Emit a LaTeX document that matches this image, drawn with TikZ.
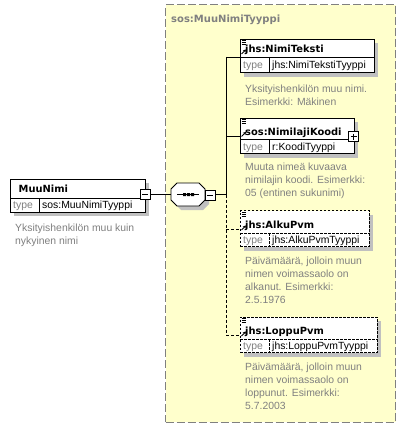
\documentclass[tikz,border=0pt]{standalone}
\usepackage{fontspec}
\setmainfont{Liberation Sans}
\newfontfamily\tfont{DejaVu Sans}
\usetikzlibrary{arrows.meta}
\definecolor{bgyel}{HTML}{FFFFCC}
\definecolor{midgray}{HTML}{808080}
\definecolor{shadowc}{HTML}{C0C0C0}
\tikzset{
  elbox/.style={draw=black,fill=white,line width=0.9pt,inner sep=0pt,outer sep=0pt},
  optbox/.style={dash pattern=on 2.5pt off 1.5pt},
  reqbox/.style={solid},
  ttl/.style={inner sep=0pt,font=\tfont\bfseries\fontsize{9.9}{12}\selectfont},
  typel/.style={inner sep=0pt,text=midgray,font=\fontsize{10.4}{12}\selectfont},
  typev/.style={inner sep=0pt,text=black,font=\fontsize{10.4}{12}\selectfont},
  desc/.style={inner sep=0pt,text=midgray,align=left,anchor=north west,font=\fontsize{10.4}{13}\selectfont},
  iconl/.style={line width=0.8pt,black},
  conn/.style={line width=0.9pt,black},
  optconn/.style={conn,dash pattern=on 3pt off 2pt},
  smallbox/.style={draw=black,fill=white,line width=0.9pt,inner sep=0pt,outer sep=0pt,minimum width=10pt,minimum height=10pt}
}
% #1 name, #2 x1, #3 y1, #4 x2, #5 ydiv, #6 y2, #7 title, #8 type, #9 border style
\newcommand\xelem[9]{%
  \fill[shadowc] (#2+4,#3+4) rectangle (#4+4,#6+4);
  \node[elbox,#9,minimum width={#4-#2},minimum height={#6-#3}] (#1) at ({(#2+#4)/2},{(#3+#6)/2}) {};
  \draw[line width=0.9pt,#9] (#2,#5) -- (#4,#5);
  \draw[line width=0.9pt,#9] (#2+29,#5) -- (#2+29,#6);
  \draw[iconl] (#2+1.5,#3+1.5) -- ++(4.5,0) (#2+1.5,#3+3.5) -- ++(4.5,0) (#2+1.5,#3+5.5) -- ++(4.5,0);
  \draw[iconl,-{Stealth[length=3pt,width=3.5pt]}] (#2+1.5,#5-3) -- ++(4.5,-4.5);
  \node[ttl,anchor=base west] (#1t) at (#2+5,#5-4.5) {#7};
  \node[typel,anchor=base west] (#1k) at (#2+3,#6-3.5) {type};
  \node[typev,anchor=base west] (#1v) at (#2+32,#6-3.5) {#8};
}
\begin{document}
\begin{tikzpicture}[x=1pt,y=-1pt]
\useasboundingbox (0,0) rectangle (406,428);
\fill[white] (0,0) rectangle (406,428);
% container
\node[draw=midgray,fill=bgyel,line width=1pt,dash pattern=on 8pt off 3pt,inner sep=0pt,outer sep=0pt,
      minimum width=230pt,minimum height=417pt] (cont) at (280.5,213.5) {};
\node[inner sep=0pt,anchor=base west,text=midgray,font=\tfont\bfseries\fontsize{10}{12}\selectfont] (contl) at (171,22.5) {sos:MuuNimiTyyppi};

% main element MuuNimi
\fill[shadowc] (14,183) rectangle (149,216);
\node[elbox,minimum width=135pt,minimum height=33pt] (muu) at (77.5,195.5) {};
\draw[line width=0.9pt] (10,198) -- (145,198);
\draw[line width=0.9pt] (39,198) -- (39,212);
\node[ttl,anchor=base west] (muut) at (18.5,192) {MuuNimi};
\node[typel,anchor=base west] (muuk) at (13,208.5) {type};
\node[typev,anchor=base west] (muuv) at (42,208.5) {sos:MuuNimiTyyppi};
\node[desc] (muud) at (15,222.5) {\rule{0pt}{9pt}Yksityishenkilön muu kuin\\nykyinen nimi};
\node[smallbox] (muum) at (145,194.5) {};
\draw[line width=0.9pt] (142,194.5) -- (148,194.5);

% sequence compositor
\fill[shadowc] (181,187) -- (203,187) -- (209,193) -- (209,204) -- (203,210) -- (181,210) -- (175,204) -- (175,193) -- cycle;
\draw[line width=0.9pt,fill=white] (177,183) -- (199,183) -- (205,189) -- (205,200) -- (199,206) -- (177,206) -- (171,200) -- (171,189) -- cycle;
\coordinate (seqin) at (171,194.5);
\draw[line width=0.9pt] (177,194.5) -- (199,194.5);
\fill[black] (183,193) rectangle (186,196) (187,193) rectangle (190,196) (191,193) rectangle (194,196);
\node[smallbox] (seqm) at (210,195) {};
\draw[line width=0.9pt] (207,195) -- (213,195);
\coordinate (bus) at (226,194.5);
\draw[conn] (muum.east) -- (seqin);
\draw[conn] (seqm.east |- bus) -- (bus);

% children
\xelem{e1}{240}{39}{374}{57}{72.5}{jhs:NimiTeksti}{jhs:NimiTekstiTyyppi}{reqbox}
\node[desc] (e1d) at (245,83.5) {\rule{0pt}{9pt}Yksityishenkilön muu nimi.\\Esimerkki: Mäkinen};

\xelem{e2}{240}{118}{354}{139.5}{153.5}{sos:NimilajiKoodi}{r:KoodiTyyppi}{reqbox}
\node[smallbox] (e2p) at (353.5,136.5) {};
\draw[line width=0.9pt] (350.5,136.5) -- (356.5,136.5) (353.5,133.5) -- (353.5,139.5);
\node[desc] (e2d) at (245,161.5) {\rule{0pt}{9pt}Muuta nimeä kuvaava\\nimilajin koodi. Esimerkki:\\05 (entinen sukunimi)};

\xelem{e3}{240}{210.5}{369}{233}{246.5}{jhs:AlkuPvm}{jhs:AlkuPvmTyyppi}{optbox}
\node[desc] (e3d) at (245,255) {\rule{0pt}{9pt}Päivämäärä, jolloin muun\\nimen voimassaolo on\\alkanut. Esimerkki:\\2.5.1976};

\xelem{e4}{240}{317}{377}{339}{352.5}{jhs:LoppuPvm}{jhs:LoppuPvmTyyppi}{optbox}
\node[desc] (e4d) at (245,361.5) {\rule{0pt}{9pt}Päivämäärä, jolloin muun\\nimen voimassaolo on\\loppunut. Esimerkki:\\5.7.2003};

% connectors
\coordinate (j1) at (226,57);
\coordinate (j2) at (226,136);
\coordinate (j3) at (226,229);
\coordinate (j4) at (226,335);
\draw[conn] (j1) -- (bus);
\draw[conn] (j1) -- (j1 -| e1.west);
\draw[conn] (j2) -- (j2 -| e2.west);
\draw[optconn] (bus) -- (j4);
\draw[optconn] (j3) -- (j3 -| e3.west);
\draw[optconn] (j4) -- (j4 -| e4.west);
\end{tikzpicture}
\end{document}
